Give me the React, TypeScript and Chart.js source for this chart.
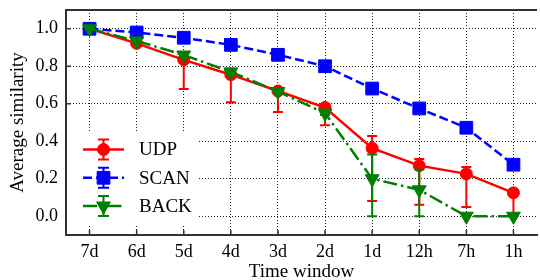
import React, { useEffect, useRef } from "react";
import { Chart, registerables } from "chart.js";
Chart.register(...registerables);

const categories = ["7d", "6d", "5d", "4d", "3d", "2d", "1d", "12h", "7h", "1h"];
const udp = [1.0, 0.922, 0.834, 0.755, 0.668, 0.58, 0.363, 0.27, 0.226, 0.125];
const udpLow = [1.0, 0.91, 0.679, 0.608, 0.556, 0.485, 0.081, 0.062, 0.049, 0.0];
const udpHigh = [1.0, 0.935, 0.85, 0.77, 0.68, 0.595, 0.428, 0.305, 0.263, 0.135];
const scan = [1.0, 0.98, 0.952, 0.914, 0.861, 0.8, 0.681, 0.575, 0.472, 0.275];
const back = [1.0, 0.935, 0.86, 0.77, 0.665, 0.55, 0.2, 0.141, 0.0, 0.0];
const backLow = [1.0, 0.93, 0.85, 0.76, 0.655, 0.54, 0.0, 0.0, 0.0, 0.0];
const backHigh = [1.0, 0.94, 0.87, 0.78, 0.675, 0.56, 0.33, 0.25, 0.0, 0.0];
const yTicks = [0, 0.2, 0.4, 0.6, 0.8, 1.0];
const seriesNames = ["UDP", "SCAN", "BACK"];

const FONT = "'Liberation Serif', 'Times New Roman', serif";
const RED = "#ff0000";
const BLUE = "#0000ff";
const GREEN = "#008000";

function drawMarker(ctx: CanvasRenderingContext2D, style: string, x: number, y: number, color: string) {
  ctx.save();
  ctx.fillStyle = color;
  ctx.strokeStyle = color;
  ctx.lineWidth = 1;
  ctx.setLineDash([]);
  ctx.beginPath();
  if (style === "circle") {
    ctx.arc(x, y, 6, 0, Math.PI * 2);
  } else if (style === "rect") {
    const s = 9 * Math.SQRT1_2;
    ctx.rect(x - s, y - s, 2 * s, 2 * s);
  } else {
    const r = 8;
    let rad = Math.PI;
    ctx.moveTo(x + Math.sin(rad) * r, y - Math.cos(rad) * r);
    rad += (2 * Math.PI) / 3;
    ctx.lineTo(x + Math.sin(rad) * r, y - Math.cos(rad) * r);
    rad += (2 * Math.PI) / 3;
    ctx.lineTo(x + Math.sin(rad) * r, y - Math.cos(rad) * r);
    ctx.closePath();
  }
  ctx.fill();
  ctx.stroke();
  ctx.restore();
}

const errorBarPlugin = {
  id: "errorBars",
  beforeDatasetDraw(chart: any, args: any) {
    const ds = chart.data.datasets[args.index];
    if (!ds.errLow) return;
    const ctx = chart.ctx;
    const x = chart.scales.x;
    const y = chart.scales.y;
    ctx.save();
    ctx.strokeStyle = ds.borderColor;
    ctx.lineWidth = 2;
    ctx.setLineDash([]);
    ds.data.forEach((_: number, i: number) => {
      const lo = ds.errLow[i];
      const hi = ds.errHigh[i];
      if (lo === hi) return;
      const px = x.getPixelForValue(i);
      const pl = y.getPixelForValue(lo);
      const ph = y.getPixelForValue(hi);
      ctx.beginPath();
      ctx.moveTo(px, pl);
      ctx.lineTo(px, ph);
      ctx.moveTo(px - 5, pl);
      ctx.lineTo(px + 5, pl);
      ctx.moveTo(px - 5, ph);
      ctx.lineTo(px + 5, ph);
      ctx.stroke();
    });
    ctx.restore();
  },
};

const framePlugin = {
  id: "frame",
  afterDatasetsDraw(chart: any) {
    const ctx = chart.ctx;
    const { left, top, right, bottom } = chart.chartArea;
    const x = chart.scales.x;
    const y = chart.scales.y;
    ctx.save();
    // top border
    ctx.strokeStyle = "#333";
    ctx.lineWidth = 2;
    ctx.beginPath();
    ctx.moveTo(left - 1, top);
    ctx.lineTo(right, top);
    ctx.stroke();
    // inward ticks
    ctx.lineWidth = 1.5;
    ctx.beginPath();
    yTicks.forEach((v) => {
      const py = y.getPixelForValue(v);
      ctx.moveTo(left, py);
      ctx.lineTo(left + 5, py);
    });
    categories.forEach((_, i) => {
      const px = x.getPixelForValue(i);
      ctx.moveTo(px, bottom);
      ctx.lineTo(px, bottom - 5);
    });
    ctx.stroke();

    // legend
    ctx.fillStyle = "#fff";
    ctx.fillRect(67, 133, 131, 92);
    const rows = [149.5, 177.8, 206];
    chart.data.datasets.forEach((ds: any, i: number) => {
      const cy = rows[i];
      ctx.save();
      ctx.strokeStyle = ds.borderColor;
      ctx.lineWidth = 2.5;
      ctx.setLineDash(ds.borderDash || []);
      ctx.beginPath();
      ctx.moveTo(83, cy);
      ctx.lineTo(124, cy);
      ctx.stroke();
      ctx.setLineDash([]);
      ctx.lineWidth = 2;
      ctx.beginPath();
      ctx.moveTo(103.5, cy - 10);
      ctx.lineTo(103.5, cy + 10);
      ctx.moveTo(98, cy - 10);
      ctx.lineTo(109, cy - 10);
      ctx.moveTo(98, cy + 10);
      ctx.lineTo(109, cy + 10);
      ctx.stroke();
      ctx.restore();
      drawMarker(ctx, ds.pointStyle, 103.5, cy, ds.borderColor);
      ctx.fillStyle = "#000";
      ctx.font = `19px ${FONT}`;
      ctx.textBaseline = "middle";
      ctx.textAlign = "left";
      ctx.fillText(ds.label, 139, cy + 1);
    });
    ctx.restore();
  },
};

export default function App() {
  const ref = useRef<HTMLCanvasElement | null>(null);
  useEffect(() => {
    if (!ref.current) return;
    const tickFont = { family: FONT, size: 18 };
    const titleFont = { family: FONT, size: 19 };
    const chart = new Chart(ref.current, {
      type: "line",
      data: {
        labels: categories,
        datasets: [
          {
            label: seriesNames[0],
            data: udp,
            errLow: udpLow,
            errHigh: udpHigh,
            borderColor: RED,
            backgroundColor: RED,
            borderWidth: 2.5,
            pointStyle: "circle",
            pointRadius: 6,
            pointBorderWidth: 1,
            order: 3,
          } as any,
          {
            label: seriesNames[1],
            data: scan,
            borderColor: BLUE,
            backgroundColor: BLUE,
            borderWidth: 2.5,
            borderDash: [9, 4],
            pointStyle: "rect",
            pointRadius: 9,
            pointBorderWidth: 1,
            order: 2,
          } as any,
          {
            label: seriesNames[2],
            data: back,
            errLow: backLow,
            errHigh: backHigh,
            borderColor: GREEN,
            backgroundColor: GREEN,
            borderWidth: 2.5,
            borderDash: [14, 4, 2.5, 4],
            pointStyle: "triangle",
            pointRotation: 180,
            pointRadius: 8,
            pointBorderWidth: 1,
            order: 1,
          } as any,
        ],
      },
      options: {
        responsive: false,
        animation: false,
        devicePixelRatio: 1,
        layout: { padding: { top: 9, right: 2, left: 0, bottom: 0 } },
        plugins: { legend: { display: false }, tooltip: { enabled: false } },
        elements: { line: { tension: 0 } },
        scales: {
          x: {
            type: "category",
            offset: true,
            grid: { offset: false, color: "#222", lineWidth: 1, drawTicks: false },
            border: { display: true, color: "#333", width: 2, dash: [1, 2] },
            ticks: { font: tickFont, color: "#000", padding: 6.5, maxRotation: 0, autoSkip: false },
            title: { display: true, text: "Time window", font: titleFont, color: "#000", padding: { top: 0, bottom: -3 } },
            afterFit: (s: any) => {
              s.height = 45;
              s.paddingLeft = 0;
              s.paddingRight = 0;
            },
          },
          y: {
            min: -0.1,
            max: 1.1,
            afterBuildTicks: (s: any) => {
              s.ticks = yTicks.map((v) => ({ value: v }));
            },
            grid: { color: "#222", lineWidth: 1, drawTicks: false },
            border: { display: true, color: "#333", width: 2, dash: [1, 2] },
            ticks: { font: tickFont, color: "#000", padding: 8, callback: (v: any) => Number(v).toFixed(1) },
            title: { display: true, text: "Average similarity", font: titleFont, color: "#000", padding: { top: 7, bottom: 0 } },
            afterFit: (s: any) => {
              s.width = 66;
              s.paddingTop = 0;
              s.paddingBottom = 0;
            },
          },
        },
      } as any,
      plugins: [errorBarPlugin, framePlugin],
    });
    return () => chart.destroy();
  }, []);
  return (
    <div style={{ position: "absolute", left: 0, top: 0, width: 540, height: 280, overflow: "hidden", background: "#fff" }}>
      <canvas ref={ref} width={547} height={280} style={{ display: "block" }} />
    </div>
  );
}
